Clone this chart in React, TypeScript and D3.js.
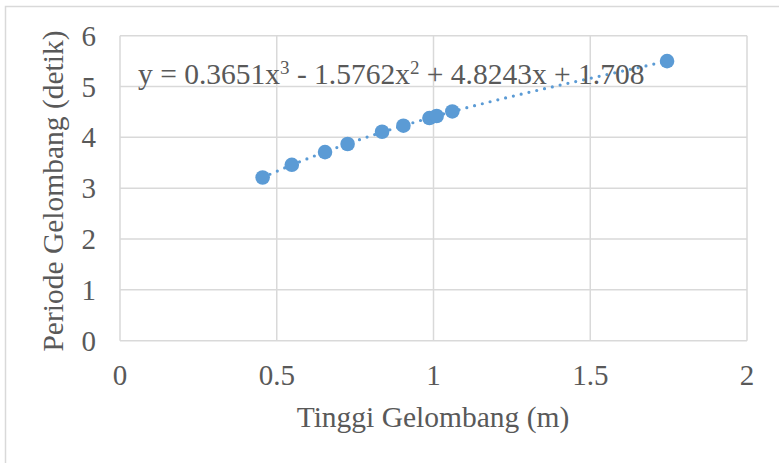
import { useEffect, useRef } from 'react';
import * as d3 from 'd3';

// Tinggi gelombang (m) vs periode gelombang (detik)
const tinggi = [0.455, 0.548, 0.654, 0.726, 0.836, 0.904, 0.987, 1.01, 1.06, 1.745];
const periode = [3.21, 3.46, 3.71, 3.87, 4.11, 4.23, 4.38, 4.42, 4.51, 5.5];

const xTicks = [0, 0.5, 1, 1.5, 2];
const yTicks = [0, 1, 2, 3, 4, 5, 6];

const W = 779;
const H = 463;
const BLUE = '#5b9bd5';
const GRID = '#d9d9d9';
const TEXT = '#595959';
const FONT = "'Liberation Serif', Tinos, 'DejaVu Serif', serif";

// cubic least squares, like the spreadsheet trendline
function polyFit(xs: number[], ys: number[], deg: number) {
  const n = deg + 1;
  const A: number[][] = [];
  for (let i = 0; i < n; i++) {
    A.push([]);
    for (let j = 0; j < n; j++) A[i].push(d3.sum(xs, (x) => Math.pow(x, i + j)));
    A[i].push(d3.sum(xs, (x, k) => Math.pow(x, i) * ys[k]));
  }
  for (let c = 0; c < n; c++) {
    let p = c;
    for (let r = c + 1; r < n; r++) if (Math.abs(A[r][c]) > Math.abs(A[p][c])) p = r;
    [A[c], A[p]] = [A[p], A[c]];
    for (let r = 0; r < n; r++) {
      if (r === c) continue;
      const f = A[r][c] / A[c][c];
      for (let k = c; k <= n; k++) A[r][k] -= f * A[c][k];
    }
  }
  return A.map((row, i) => row[n] / row[i]);
}

export default function App() {
  const svgRef = useRef<SVGSVGElement>(null);

  useEffect(() => {
    document.body.style.margin = '0';
    const svg = d3.select(svgRef.current);
    svg.selectAll('*').remove();

    const x = d3.scaleLinear().domain([0, 2]).range([120, 747]);
    const y = d3.scaleLinear().domain([0, 6]).range([340.7, 35.7]);

    // chart frame
    svg.append('rect')
      .attr('x', 5.5).attr('y', 6.5)
      .attr('width', W + 10).attr('height', H + 10)
      .attr('fill', 'white').attr('stroke', GRID).attr('stroke-width', 1.5);

    const g = svg.append('g');
    g.selectAll('line.h')
      .data(yTicks)
      .join('line')
      .attr('x1', x(0)).attr('x2', x(2))
      .attr('y1', (d) => y(d)).attr('y2', (d) => y(d))
      .attr('stroke', GRID).attr('stroke-width', 1.5);
    g.selectAll('line.v')
      .data(xTicks)
      .join('line')
      .attr('y1', y(0)).attr('y2', y(6))
      .attr('x1', (d) => x(d)).attr('x2', (d) => x(d))
      .attr('stroke', GRID).attr('stroke-width', 1.5);

    const label = (sel: any, size: number) =>
      sel.style('font-family', FONT).style('font-size', size + 'px').attr('fill', TEXT);

    // tick labels
    svg.append('g')
      .selectAll('text')
      .data(xTicks)
      .join('text')
      .attr('x', (d) => x(d)).attr('y', 385)
      .attr('text-anchor', 'middle')
      .call(label, 29)
      .text((d) => String(d));
    svg.append('g')
      .selectAll('text')
      .data(yTicks)
      .join('text')
      .attr('x', 96).attr('y', (d) => y(d) + 10)
      .attr('text-anchor', 'end')
      .call(label, 29)
      .text((d) => String(d));

    // axis titles
    svg.append('text')
      .attr('x', 433).attr('y', 427)
      .attr('text-anchor', 'middle')
      .call(label, 29.5)
      .text('Tinggi Gelombang (m)');
    svg.append('text')
      .attr('transform', 'translate(63,191) rotate(-90)')
      .attr('text-anchor', 'middle')
      .call(label, 29.5)
      .text('Periode Gelombang (detik)');

    // trendline
    const coef = polyFit(tinggi, periode, 3);
    const [x0, x1] = d3.extent(tinggi) as [number, number];
    const xs = d3.range(0, 101).map((i) => x0 + ((x1 - x0) * i) / 100);
    const line = d3.line<number>()
      .x((d) => x(d))
      .y((d) => y(coef[0] + coef[1] * d + coef[2] * d * d + coef[3] * d * d * d));
    svg.append('path')
      .attr('d', line(xs))
      .attr('fill', 'none')
      .attr('stroke', BLUE)
      .attr('stroke-width', 3.2)
      .attr('stroke-linecap', 'round')
      .attr('stroke-dasharray', '0 8');

    // points
    svg.append('g')
      .selectAll('circle')
      .data(tinggi)
      .join('circle')
      .attr('cx', (d) => x(d))
      .attr('cy', (d, i) => y(periode[i]))
      .attr('r', 7.3)
      .attr('fill', BLUE);

    // equation label
    const eq = svg.append('text')
      .attr('x', 138).attr('y', 84)
      .call(label, 29.5);
    const parts: [string, number][] = [
      ['y = 0.3651x', 0], ['3', -10], [' - 1.5762x', 10], ['2', -10],
      [' + 4.8243x + 1.708', 10],
    ];
    parts.forEach(([t, dy], i) => {
      eq.append('tspan')
        .style('font-size', i % 2 ? '19px' : '29.5px')
        .attr('dy', dy)
        .text(t);
    });
  }, []);

  return <svg ref={svgRef} width={W} height={H} style={{ display: 'block' }} />;
}
